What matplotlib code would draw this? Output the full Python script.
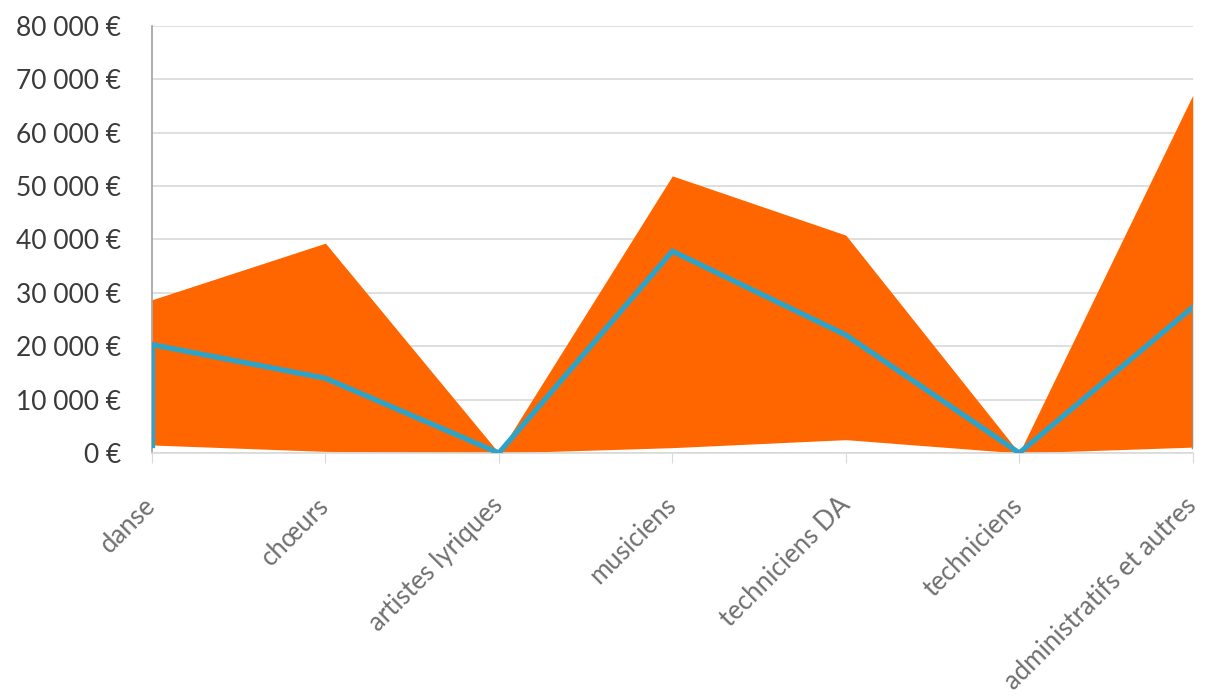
import matplotlib
matplotlib.use("Agg")
import matplotlib.pyplot as plt
import matplotlib.transforms as mtransforms
import numpy as np

categories = ["danse", "chœurs", "artistes lyriques", "musiciens",
              "techniciens DA", "techniciens", "administratifs et autres"]
max_values = [28700, 39300, 0, 51900, 40800, 0, 67000]
median_values = [20300, 14000, 0, 37800, 22100, 0, 27300]
min_values = [1500, 300, 0, 1000, 2500, 0, 1100]
y_ticks = [0, 10000, 20000, 30000, 40000, 50000, 60000, 70000, 80000]
y_tick_labels = ["0 €", "10 000 €", "20 000 €", "30 000 €", "40 000 €",
                 "50 000 €", "60 000 €", "70 000 €", "80 000 €"]

plt.rcParams['font.family'] = ['Lato', 'DejaVu Sans']

fig = plt.figure(figsize=(12.06, 6.98), dpi=100)
ax = fig.add_axes([0.126, 0.351, 0.863, 0.612])

x = np.arange(len(categories))
orange = "#FF6600"
blue = "#2FA3C7"

ax.fill_between(x, min_values, max_values, color=orange, linewidth=0, zorder=2)
ax.plot(x, median_values, color=blue, linewidth=3.8, zorder=3, solid_joinstyle='miter')
ax.plot([x[0], x[0]], [min_values[0], median_values[0]], color=blue, linewidth=3.8, zorder=3)
ax.plot([x[-1], x[-1]], [min_values[-1], median_values[-1]], color="#9C8C78", linewidth=2.5, zorder=3)

ax.set_xlim(x[0], x[-1])
ax.set_ylim(0, 80000)
ax.set_yticks(y_ticks)
ax.set_yticklabels(y_tick_labels, fontsize=19, color="#3a3a3a")
ax.set_xticks(x)
ax.set_xticklabels(categories, rotation=45, ha='right', va='center',
                   rotation_mode='anchor', fontsize=18.5, color="#707070")
offset = mtransforms.ScaledTranslation(0.10, 0, fig.dpi_scale_trans)
for lbl in ax.get_xticklabels():
    lbl.set_transform(lbl.get_transform() + offset)
ax.tick_params(axis='y', length=0, pad=22)
ax.tick_params(axis='x', length=7, color="#d9d9d9", pad=28)
ax.grid(axis='y', color="#d9d9d9", linewidth=1.2, zorder=0)
ax.set_axisbelow(True)
for s in ["top", "right"]:
    ax.spines[s].set_visible(False)
ax.spines["left"].set_color("#a0a0a0")
ax.spines["left"].set_linewidth(1.2)
ax.spines["bottom"].set_color("#d9d9d9")
ax.spines["bottom"].set_linewidth(1.2)

fig.savefig("out.png", dpi=100, facecolor="white")
